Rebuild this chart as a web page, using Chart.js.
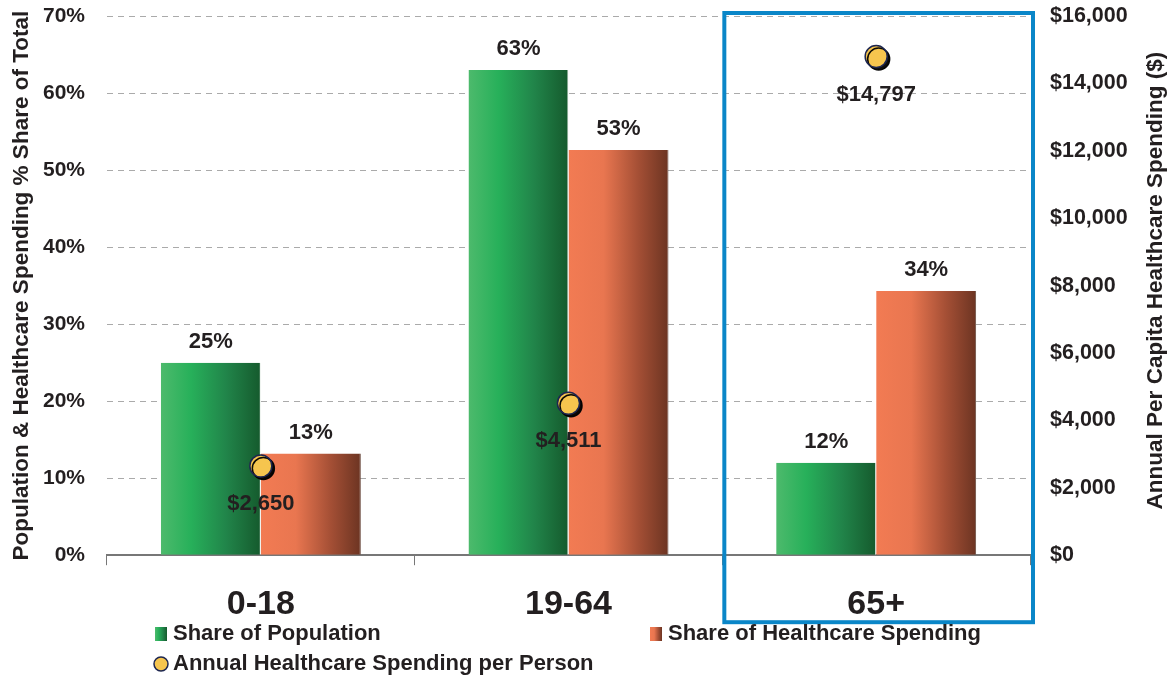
<!DOCTYPE html>
<html>
<head>
<meta charset="utf-8">
<script src="https://cdn.jsdelivr.net/npm/chart.js@4/dist/chart.umd.min.js"></script>
<style>
  html, body { margin: 0; padding: 0; background: #fff; }
  #wrap { width: 1172px; height: 679px; }
</style>
</head>
<body>
<div id="wrap"><canvas id="chart" width="1172" height="679"></canvas></div>
<script>
const ageGroups = ["0-18", "19-64", "65+"];
const sharePopulation = [25, 63, 12];
const shareSpending = [13.2, 52.6, 34.3];
const spendingPerPerson = [2650, 4511, 14797];
const leftTicks = [0, 10, 20, 30, 40, 50, 60, 70];
const rightTicks = [0, 2000, 4000, 6000, 8000, 10000, 12000, 14000, 16000];

const FONT = "'Liberation Sans', Arial, sans-serif";
const TEXT = "#231f20";
const CAT_PCT = 0.65;

// horizontal gradient over one bar, worked out from the x scale
function barGradient(ctx, stops, side) {
  const chart = ctx.chart;
  const x = chart.scales.x;
  if (!x || !chart.chartArea) return stops[0][1];
  const centre = x.getPixelForValue(ctx.dataIndex);
  const catW = (x.width / ageGroups.length) * CAT_PCT;
  const x0 = side === 0 ? centre - catW / 2 : centre;
  const g = chart.ctx.createLinearGradient(x0, 0, x0 + catW / 2, 0);
  stops.forEach(s => g.addColorStop(s[0], s[1]));
  return g;
}
const greenStops = [[0, "#4dba6c"], [0.3, "#27b05a"], [0.65, "#21854a"], [1, "#155a2d"]];
const orangeStops = [[0, "#f27b53"], [0.35, "#e97650"], [0.7, "#a44f35"], [1, "#6c3422"]];

const valueLabels = {
  id: "valueLabels",
  afterDatasetsDraw(chart) {
    const c = chart.ctx;
    c.save();
    c.fillStyle = TEXT;
    c.font = "bold 22px " + FONT;
    c.textAlign = "center";
    chart.data.datasets.forEach((ds, i) => {
      const meta = chart.getDatasetMeta(i);
      meta.data.forEach((el, j) => {
        if (ds.type === "line") {
          c.textBaseline = "middle";
          c.fillText("$" + ds.data[j].toLocaleString("en-US"), el.x, el.y + 38);
        } else {
          c.textBaseline = "bottom";
          c.fillText(Math.round(ds.data[j]) + "%", el.x, el.y - 10);
        }
      });
    });
    c.restore();
  }
};

const pointShadow = {
  id: "pointShadow",
  beforeDatasetDraw(chart, args) {
    if (chart.data.datasets[args.index].type !== "line") return;
    const c = chart.ctx;
    c.save();
    c.shadowColor = "rgba(0,0,0,0.95)";
    c.shadowOffsetX = 2.5;
    c.shadowOffsetY = 2.5;
    c.shadowBlur = 0;
  },
  afterDatasetDraw(chart, args) {
    if (chart.data.datasets[args.index].type !== "line") return;
    chart.ctx.restore();
  }
};

// axis titles (both read bottom to top), blue frame round 65+, legend
const extras = {
  id: "extras",
  afterDraw(chart) {
    const c = chart.ctx;
    const x = chart.scales.x;
    const area = chart.chartArea;
    const mid = (area.top + area.bottom) / 2;
    c.save();
    c.fillStyle = TEXT;
    c.font = "bold 22.5px " + FONT;
    c.textAlign = "center";
    c.textBaseline = "middle";
    [[22, mid, "Population & Healthcare Spending % Share of Total"],
     [1156, mid - 5, "Annual Per Capita Healthcare Spending ($)"]].forEach(t => {
      c.save();
      c.translate(t[0], t[1]);
      c.rotate(-Math.PI / 2);
      c.fillText(t[2], 0, 0);
      c.restore();
    });

    const catW = x.width / ageGroups.length;
    const left = x.getPixelForValue(2) - catW / 2 + 2;
    const right = area.right + 3;
    c.strokeStyle = "#0a86c8";
    c.lineWidth = 4;
    c.strokeRect(left, area.top - 3, right - left, area.bottom + 67 - (area.top - 3));

    // legend
    c.font = "bold 22px " + FONT;
    c.textAlign = "left";
    const y1 = chart.height - 45, y2 = chart.height - 15;
    const items = [
      { x: 155, y: y1, kind: "box", stops: greenStops, text: "Share of Population" },
      { x: 650, y: y1, kind: "box", stops: orangeStops, text: "Share of Healthcare Spending" },
      { x: 155, y: y2, kind: "dot", text: "Annual Healthcare Spending per Person" }
    ];
    items.forEach(it => {
      if (it.kind === "box") {
        const g = c.createLinearGradient(it.x, 0, it.x + 12, 0);
        it.stops.forEach(s => g.addColorStop(s[0], s[1]));
        c.fillStyle = g;
        c.fillRect(it.x, it.y - 7, 12, 14);
      } else {
        c.beginPath();
        c.arc(it.x + 6, it.y, 7, 0, Math.PI * 2);
        c.fillStyle = "#f6c54e";
        c.fill();
        c.lineWidth = 1.5;
        c.strokeStyle = "#1d2650";
        c.stroke();
      }
      c.fillStyle = TEXT;
      c.fillText(it.text, it.x + 18, it.y);
    });
    c.restore();
  }
};

new Chart(document.getElementById("chart"), {
  data: {
    labels: ageGroups,
    datasets: [
      {
        type: "line",
        label: "Annual Healthcare Spending per Person",
        data: spendingPerPerson,
        yAxisID: "y2",
        showLine: false,
        pointRadius: 11,
        pointHoverRadius: 11,
        pointBackgroundColor: "#f6c54e",
        pointBorderColor: "#1d2650",
        pointBorderWidth: 1.5,
        order: 0
      },
      {
        type: "bar",
        label: "Share of Population",
        data: sharePopulation,
        yAxisID: "y",
        backgroundColor: ctx => barGradient(ctx, greenStops, 0),
        borderColor: "#e8efe9",
        borderWidth: { right: 1 },
        categoryPercentage: CAT_PCT,
        barPercentage: 1,
        order: 1
      },
      {
        type: "bar",
        label: "Share of Healthcare Spending",
        data: shareSpending,
        yAxisID: "y",
        backgroundColor: ctx => barGradient(ctx, orangeStops, 1),
        borderColor: "#6a4a3e",
        borderWidth: { right: 1 },
        categoryPercentage: CAT_PCT,
        barPercentage: 1,
        order: 1
      }
    ]
  },
  options: {
    responsive: false,
    animation: false,
    layout: { padding: { top: 16, left: 0, right: 0, bottom: 35 } },
    plugins: {
      legend: { display: false },
      tooltip: { enabled: false }
    },
    scales: {
      x: {
        grid: { offset: true, drawOnChartArea: false, drawTicks: true, tickLength: 10, color: "#777" },
        border: { display: true, color: "#777", width: 2 },
        ticks: { font: { family: FONT, size: 34, weight: "bold" }, color: TEXT, padding: 19 }
      },
      y: {
        position: "left",
        min: 0,
        max: 70,
        afterBuildTicks: axis => { axis.ticks = leftTicks.map(v => ({ value: v })); },
        afterFit: axis => { axis.width = 107; axis.paddingTop = 0; axis.paddingBottom = 0; },
        grid: { color: "#aaa", drawTicks: false, lineWidth: 1 },
        border: { display: false, dash: [6, 5] },
        ticks: {
          font: { family: FONT, size: 21, weight: "bold" },
          color: TEXT,
          padding: 22,
          callback: v => v + "%"
        }
      },
      y2: {
        position: "right",
        min: 0,
        max: 16000,
        afterBuildTicks: axis => { axis.ticks = rightTicks.map(v => ({ value: v })); },
        afterFit: axis => { axis.width = 142; axis.paddingTop = 0; axis.paddingBottom = 0; },
        grid: { display: false, drawTicks: false },
        border: { display: false },
        ticks: {
          font: { family: FONT, size: 21.5, weight: "bold" },
          color: TEXT,
          padding: 20,
          callback: v => "$" + v.toLocaleString("en-US")
        }
      }
    }
  },
  plugins: [pointShadow, valueLabels, extras]
});
</script>
</body>
</html>
